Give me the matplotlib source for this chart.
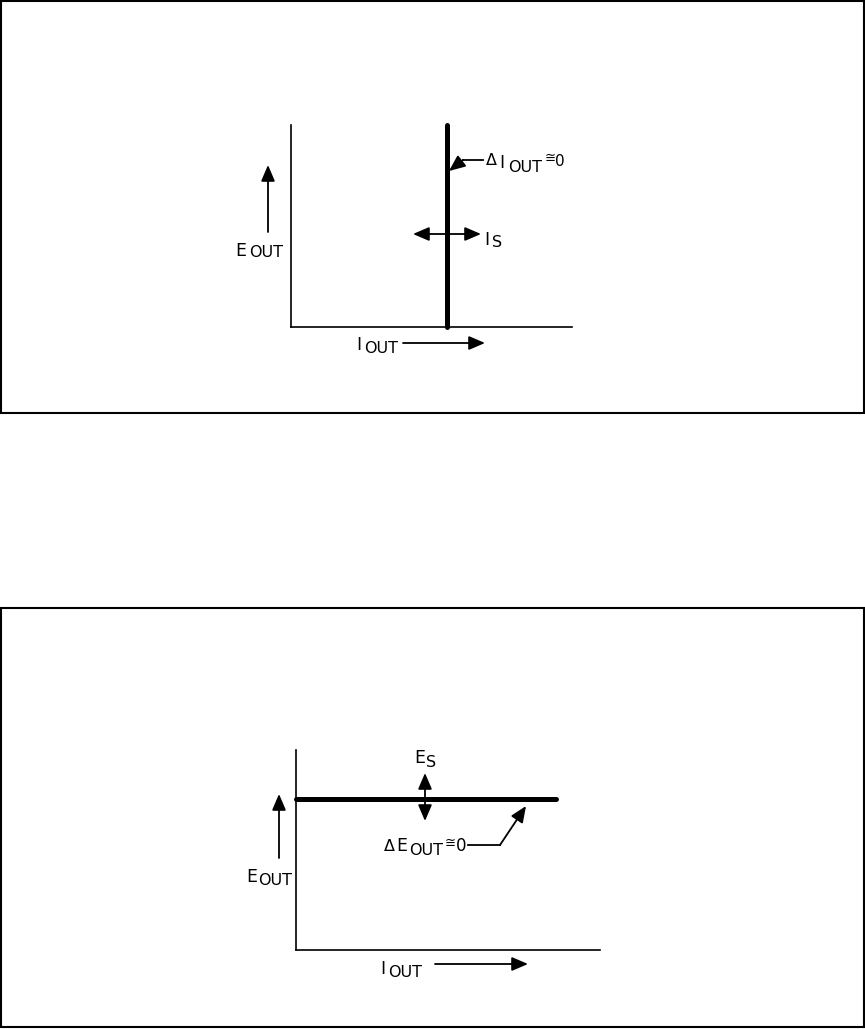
import matplotlib
matplotlib.use("Agg")
import matplotlib.pyplot as plt
from matplotlib.patches import Rectangle

W, H = 865, 1029
plt.rcParams['font.family'] = ['DejaVu Sans']

# schematic values, in fractions of each panel's axes
cc_current = 0.555          # constant current line position (I_OUT)
cc_e_range = [0.0, 1.0]     # it spans the whole E_OUT range
cv_voltage = 0.755          # constant voltage line level (E_OUT)
cv_i_range = [0.0, 0.855]   # spans from 0 to max load current

fig = plt.figure(figsize=(W / 100, H / 100), dpi=100)

# overlay in pixel coordinates for frames, labels and arrows
ov = fig.add_axes([0, 0, 1, 1])
ov.set_xlim(0, W)
ov.set_ylim(H, 0)
ov.axis('off')
ov.set_zorder(5)
ov.patch.set_alpha(0)

ov.add_patch(Rectangle((1, 1), 863, 412, fill=False, lw=1.5, ec='black'))
ov.add_patch(Rectangle((1, 608), 863, 419, fill=False, lw=1.5, ec='black'))


def panel(left, top, right, bottom):
    ax = fig.add_axes([left / W, 1 - bottom / H, (right - left) / W, (bottom - top) / H])
    ax.set_xlim(0, 1)
    ax.set_ylim(0, 1)
    ax.set_xticks([])
    ax.set_yticks([])
    for s in ['top', 'right']:
        ax.spines[s].set_visible(False)
    for s in ['left', 'bottom']:
        ax.spines[s].set_linewidth(1.2)
    ax.patch.set_alpha(0)
    return ax


def arrow(x0, y0, x1, y1, style='-|>'):
    ov.annotate('', xy=(x1, y1), xytext=(x0, y0),
                arrowprops=dict(arrowstyle=style + ',head_length=0.7,head_width=0.3',
                                color='black', lw=1.3, shrinkA=0, shrinkB=0,
                                mutation_scale=14))


def sub(x, y, main, low, size=12.5, dx=11, dy=3, lsize=11.5):
    ov.text(x, y, main, fontsize=size, ha='left', va='baseline')
    ov.text(x + dx, y + dy, low, fontsize=lsize, ha='left', va='baseline')


# ---- top panel: constant current ----
ax1 = panel(291, 125, 572, 327)
ax1.plot([cc_current, cc_current], cc_e_range, color='black', lw=3.6,
         solid_capstyle='round', clip_on=False)

sub(235, 256, 'E', 'OUT', dx=14, dy=1)
arrow(268, 232, 268, 165)
sub(356, 350, 'I', 'OUT', dx=8, dy=3)
arrow(403, 343, 485, 343)
arrow(413, 234, 481, 234, '<|-|>')
sub(484, 245, 'I', 'S', dx=8, dy=2)
ov.text(486, 165, 'Δ', fontsize=11.5, ha='left', va='baseline')
sub(499, 168, 'I', 'OUT', dx=9, dy=4)
ov.text(545, 162, '≅', fontsize=9.5, ha='left', va='baseline')
ov.text(555, 166, '0', fontsize=11, ha='left', va='baseline')
ov.plot([483, 463], [160, 160], color='black', lw=1.3)
arrow(463, 160, 449, 171)

# ---- bottom panel: constant voltage ----
ax2 = panel(296, 750, 600, 950)
ax2.plot(cv_i_range, [cv_voltage, cv_voltage], color='black', lw=3.6,
         solid_capstyle='round', clip_on=False)

sub(246, 882, 'E', 'OUT', dx=12, dy=3)
arrow(279, 858, 279, 794)
sub(380, 974, 'I', 'OUT', dx=8, dy=3)
arrow(435, 964, 528, 964)
arrow(425, 821, 425, 773, '<|-|>')
sub(414, 763, 'E', 'S', dx=12, dy=4)
ov.text(384, 851, 'Δ', fontsize=11.5, ha='left', va='baseline')
sub(396, 851, 'E', 'OUT', dx=13, dy=4)
ov.text(445, 847, '≅', fontsize=9.5, ha='left', va='baseline')
ov.text(456, 851, '0', fontsize=12, ha='left', va='baseline')
ov.plot([468, 500], [845, 845], color='black', lw=1.3)
arrow(500, 845, 526, 806)

fig.savefig('out.png', dpi=100, facecolor='white')
